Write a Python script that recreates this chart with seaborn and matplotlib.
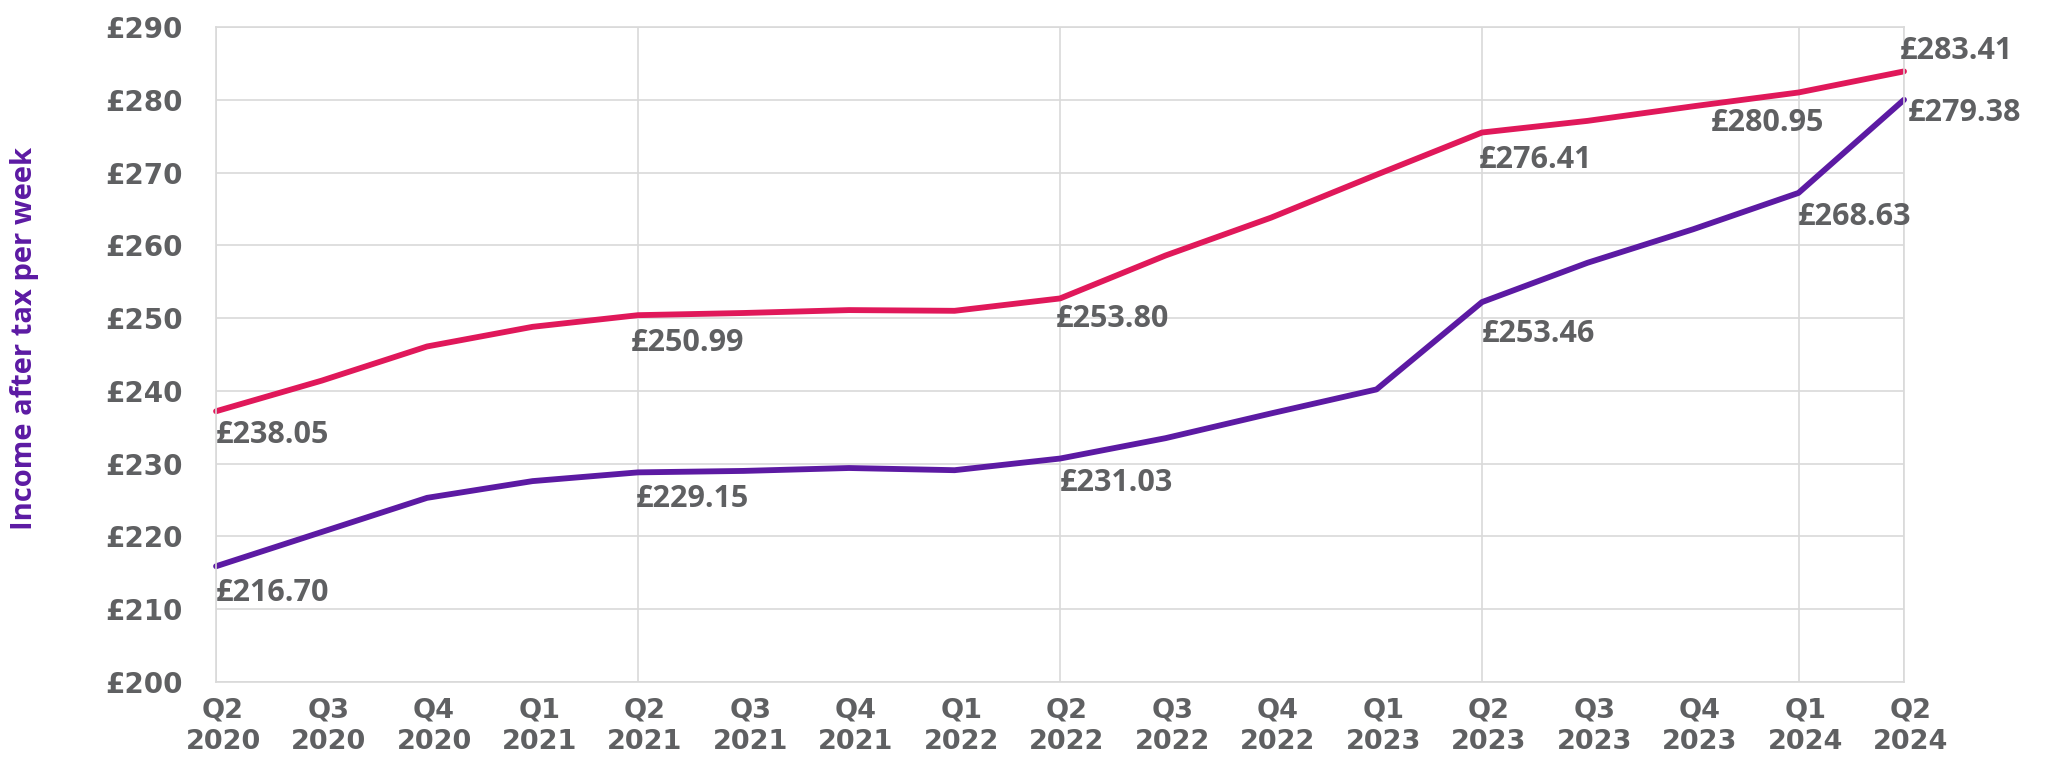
import pandas as pd
import matplotlib
matplotlib.use('Agg')
import matplotlib.pyplot as plt
from matplotlib.transforms import ScaledTranslation
import seaborn as sns

# dados
quarters = ['Q2\n2020', 'Q3\n2020', 'Q4\n2020', 'Q1\n2021', 'Q2\n2021', 'Q3\n2021',
            'Q4\n2021', 'Q1\n2022', 'Q2\n2022', 'Q3\n2022', 'Q4\n2022', 'Q1\n2023',
            'Q2\n2023', 'Q3\n2023', 'Q4\n2023', 'Q1\n2024', 'Q2\n2024']
upper = [237.2, 241.4, 246.1, 248.8, 250.4, 250.7, 251.1, 251.0, 252.7,
         258.6, 263.8, 269.7, 275.5, 277.1, 279.1, 281.0, 283.9]
lower = [215.9, 220.6, 225.3, 227.6, 228.8, 229.0, 229.4, 229.1, 230.7,
         233.5, 236.9, 240.2, 252.2, 257.6, 262.2, 267.2, 280.0]
# rótulos impressos no gráfico (nos trimestres marcados)
labelled = [0, 4, 8, 12, 15, 16]
upper_labels = [238.05, 250.99, 253.80, 276.41, 280.95, 283.41]
lower_labels = [216.70, 229.15, 231.03, 253.46, 268.63, 279.38]
y_ticks = [200, 210, 220, 230, 240, 250, 260, 270, 280, 290]

pink = '#e0185a'
purple = '#5c1aa3'
grey = '#5f6062'
gridc = '#d9d9d9'
fonte = ['Open Sans', 'DejaVu Sans']

n = len(quarters)
df = pd.DataFrame({
    'x': list(range(n)) * 2,
    'valor': upper + lower,
    'serie': ['upper'] * n + ['lower'] * n,
})

sns.set_style('white')
plt.rcParams['font.family'] = ['DejaVu Sans']

fig = plt.figure(figsize=(20.46, 7.58), dpi=100)
ax = fig.add_axes([0.1056, 0.1003, 0.8250, 0.8641])

ax.set_xlim(0, n - 1)
ax.set_ylim(200, 290)
ax.set_yticks(y_ticks)
ax.yaxis.grid(True, color=gridc, lw=1.2)
ax.set_axisbelow(True)
for i in labelled:
    ax.axvline(i, color=gridc, lw=1.2, zorder=0)
for s in ax.spines.values():
    s.set_color(gridc)
    s.set_linewidth(1.2)

sns.lineplot(data=df, x='x', y='valor', hue='serie', palette={'upper': pink, 'lower': purple},
             linewidth=4.2, solid_capstyle='round', clip_on=False, legend=False, ax=ax)

# posições dos rótulos (pixels em relação ao ponto)
off_upper = [(0, -24), (-7, -28), (-4, -21), (-3, -27), (-88, -31), (-4, 20)]
off_lower = [(0, -27), (-2, -27), (0, -24), (0, -32), (-1, -24), (4, -13)]
for serie, labs, offs in [(upper, upper_labels, off_upper), (lower, lower_labels, off_lower)]:
    for i, lab, off in zip(labelled, labs, offs):
        ax.annotate(f'£{lab:.2f}', (i, serie[i]), xytext=off, textcoords='offset pixels',
                    ha='left', va='center', fontsize=22, fontweight='bold', color=grey,
                    family=fonte, annotation_clip=False)

ax.set_xticks(range(n))
ax.set_xticklabels(quarters, linespacing=1.23, fontsize=19.5, fontweight='bold', color=grey)
ax.set_yticklabels([f'£{v}' for v in y_ticks], fontsize=20, fontweight='bold', color=grey)
ax.tick_params(axis='x', length=0, pad=11.5)
ax.tick_params(axis='y', length=0, pad=24)
# no original os rótulos do eixo x ficam um pouco à direita
desloc = ScaledTranslation(7 / 100, 0, fig.dpi_scale_trans)
for t in ax.get_xticklabels():
    t.set_transform(t.get_transform() + desloc)

ax.set_xlabel('')
ax.set_ylabel('')
fig.text(25 / 2046, 1 - 339 / 758, 'Income after tax per week', rotation=90,
         ha='center', va='center', fontsize=21, fontweight='bold', color=purple, family=fonte)

plt.savefig('out.png', dpi=100)
